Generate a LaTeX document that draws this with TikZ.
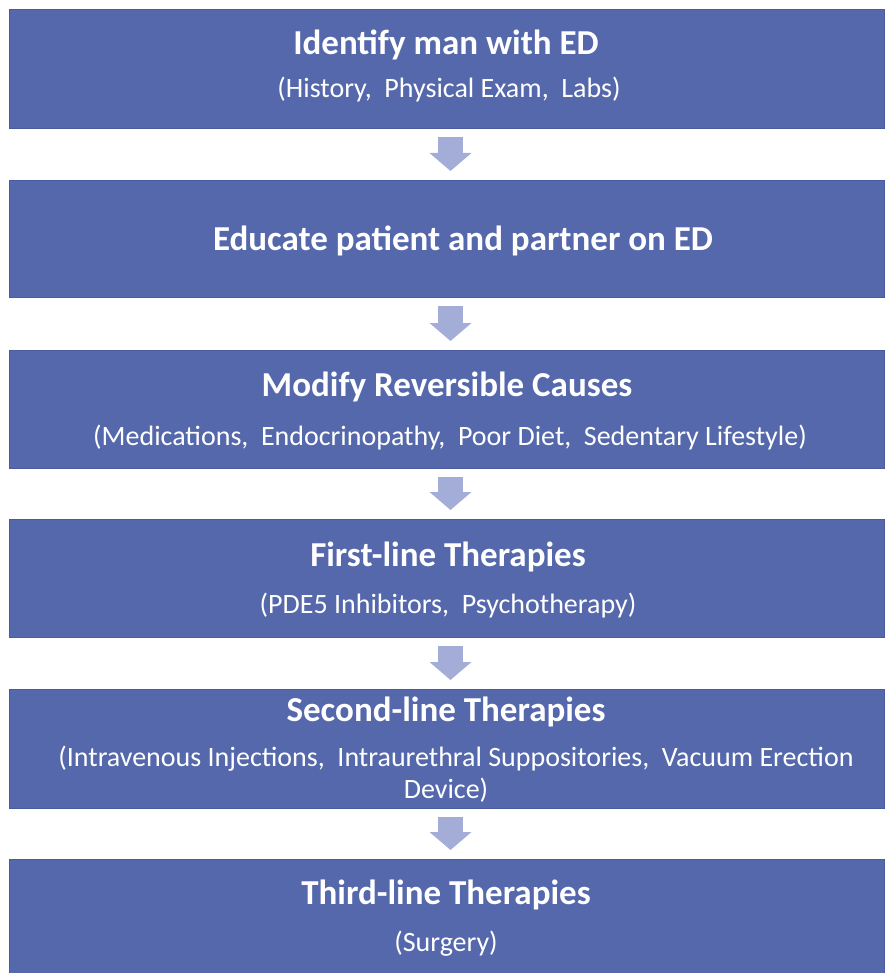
\documentclass[tikz,border=0pt]{standalone}
\usepackage{fontspec}
\setmainfont{Carlito}
\usetikzlibrary{arrows.meta}
\definecolor{boxblue}{HTML}{5568AB}
\definecolor{boxedge}{HTML}{4A5C9E}
\definecolor{arrowblue}{HTML}{A3ADD8}
% wide gap after a comma
\newcommand{\cgap}{\hspace{0.45em}}
\begin{document}
\begin{tikzpicture}[x=1pt,y=-1pt,
  stagebox/.style={rectangle, fill=boxblue, draw=boxedge, line width=0.8pt,
    minimum width=875pt, inner sep=0pt, outer sep=0pt, anchor=north west},
  headtext/.style={text=white, font=\bfseries\fontsize{35}{40}\selectfont,
    anchor=base, inner sep=0pt},
  subtext/.style={text=white, font=\fontsize{28}{32}\selectfont,
    anchor=base, inner sep=0pt},
  flowarrow/.style={draw=arrowblue, line width=25pt,
    -{Triangle[width=41pt,length=18pt]}, shorten <=9pt, shorten >=9pt}]
\useasboundingbox (0,0) rectangle (886,973);

% stage boxes
\node[stagebox, minimum height=119pt] (b1) at (9,9) {};
\node[stagebox, minimum height=117pt] (b2) at (9,180) {};
\node[stagebox, minimum height=118pt] (b3) at (9,350) {};
\node[stagebox, minimum height=118pt] (b4) at (9,519) {};
\node[stagebox, minimum height=119pt] (b5) at (9,689) {};
\node[stagebox, minimum height=114pt] (b6) at (9,859) {};

% box texts
\node[headtext] (h1) at (446,55) {Identify man with ED};
\node[subtext]  (s1) at (449,98) {(History,\cgap Physical Exam,\cgap Labs)};
\node[headtext] (h2) at (463,251) {Educate patient and partner on ED};
\node[headtext] (h3) at (447,396) {Modify Reversible Causes};
\node[subtext]  (s3) at (450,445) {(Medications,\cgap Endocrinopathy,\cgap Poor Diet,\cgap Sedentary Lifestyle)};
\node[headtext] (h4) at (448,566) {First-line Therapies};
\node[subtext]  (s4) at (448,613) {(PDE5 Inhibitors,\cgap Psychotherapy)};
\node[headtext] (h5) at (446,721) {Second-line Therapies};
\node[subtext]  (s5a) at (456,766) {(Intravenous Injections,\cgap Intraurethral Suppositories,\cgap Vacuum Erection};
\node[subtext]  (s5b) at (446,798) {Device)};
\node[headtext] (h6) at (446,904) {Third-line Therapies};
\node[subtext]  (s6) at (446,951) {(Surgery)};

% flow arrows between stages
\foreach \a/\b in {b1/b2, b2/b3, b3/b4, b4/b5, b5/b6}
  \draw[flowarrow] ([xshift=4pt]\a.south) -- ([xshift=4pt]\b.north);
\end{tikzpicture}
\end{document}
